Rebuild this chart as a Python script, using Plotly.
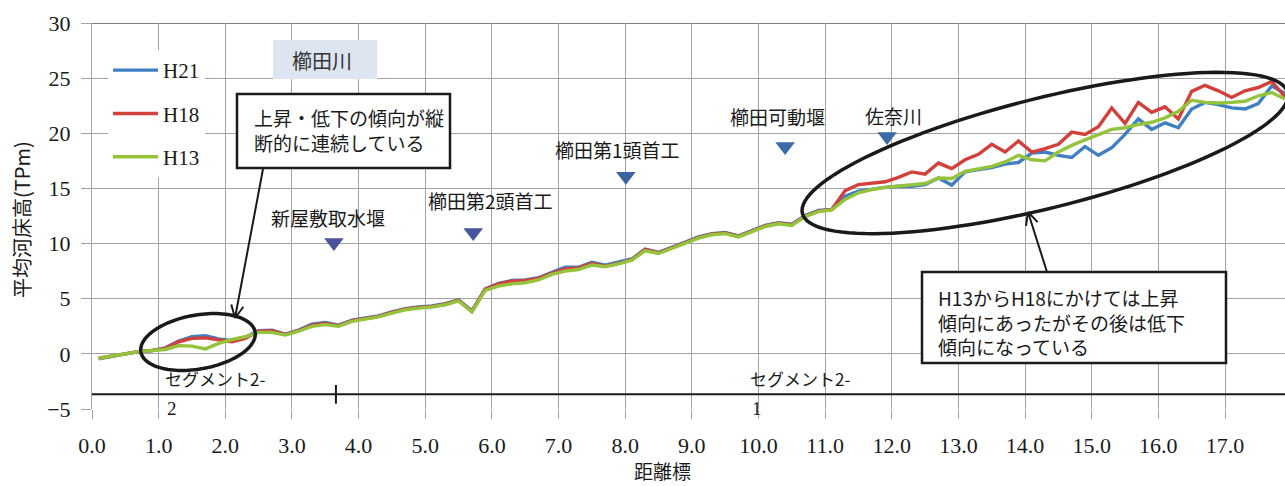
import math
import plotly.graph_objects as go

# ---- data -----------------------------------------------------------------
# distance marks (km) at which the mean riverbed level was surveyed
X_KM = [0.1, 0.3, 0.5, 0.7, 0.9, 1.1, 1.3, 1.5, 1.7, 1.9,
        2.1, 2.3, 2.5, 2.7, 2.9, 3.1, 3.3, 3.5, 3.7, 3.9,
        4.1, 4.3, 4.5, 4.7, 4.9, 5.1, 5.3, 5.5, 5.7, 5.9,
        6.1, 6.3, 6.5, 6.7, 6.9, 7.1, 7.3, 7.5, 7.7, 7.9,
        8.1, 8.3, 8.5, 8.7, 8.9, 9.1, 9.3, 9.5, 9.7, 9.9,
        10.1, 10.3, 10.5, 10.7, 10.9, 11.1, 11.3, 11.5, 11.7, 11.9,
        12.1, 12.3, 12.5, 12.7, 12.9, 13.1, 13.3, 13.5, 13.7, 13.9,
        14.1, 14.3, 14.5, 14.7, 14.9, 15.1, 15.3, 15.5, 15.7, 15.9,
        16.1, 16.3, 16.5, 16.7, 16.9, 17.1, 17.3, 17.5, 17.7, 17.9]

H21 = [-0.45, -0.2, 0.0, 0.2, 0.3, 0.55, 1.15, 1.55, 1.65, 1.35,
       1.2, 1.5, 2.1, 2.15, 1.8, 2.15, 2.7, 2.85, 2.6, 3.05,
       3.25, 3.45, 3.8, 4.1, 4.25, 4.35, 4.55, 4.9, 3.9, 5.9,
       6.4, 6.65, 6.7, 6.9, 7.4, 7.85, 7.85, 8.3, 8.05, 8.3,
       8.6, 9.5, 9.2, 9.65, 10.15, 10.6, 10.9, 11.0, 10.7, 11.15,
       11.65, 11.9, 11.75, 12.55, 13.0, 13.1, 14.3, 14.75, 14.95, 15.1,
       15.2, 15.2, 15.35, 15.95, 15.3, 16.5, 16.7, 16.9, 17.2, 17.35,
       18.2, 18.3, 18.0, 17.8, 18.8, 18.0, 18.7, 19.9, 21.3, 20.35,
       20.95, 20.5, 22.2, 22.8, 22.6, 22.3, 22.2, 22.7, 24.3, 23.6]

H18 = [-0.4, -0.2, 0.0, 0.2, 0.3, 0.5, 1.1, 1.4, 1.45, 1.25,
       1.1, 1.4, 2.05, 2.1, 1.75, 2.1, 2.6, 2.75, 2.55, 3.0,
       3.2, 3.4, 3.75, 4.05, 4.2, 4.3, 4.5, 4.85, 3.85, 5.85,
       6.35, 6.6, 6.65, 6.85, 7.3, 7.7, 7.8, 8.2, 7.95, 8.2,
       8.55, 9.45, 9.15, 9.6, 10.1, 10.55, 10.85, 10.95, 10.65, 11.1,
       11.6, 11.85, 11.7, 12.5, 12.95, 13.1, 14.8, 15.35, 15.45, 15.6,
       16.0, 16.5, 16.3, 17.3, 16.8, 17.6, 18.1, 19.0, 18.3, 19.3,
       18.3, 18.6, 19.0, 20.1, 19.9, 20.6, 22.3, 20.9, 22.8, 21.9,
       22.4, 21.3, 23.8, 24.35, 23.85, 23.25, 23.85, 24.15, 24.7, 23.3]

H13 = [-0.4, -0.2, 0.0, 0.2, 0.3, 0.4, 0.75, 0.7, 0.45, 0.95,
       1.3, 1.55, 1.95, 1.95, 1.7, 2.05, 2.5, 2.65, 2.5, 2.95,
       3.15, 3.35, 3.7, 4.0, 4.15, 4.25, 4.45, 4.8, 3.8, 5.75,
       6.15, 6.35, 6.45, 6.7, 7.2, 7.5, 7.65, 8.05, 7.9, 8.15,
       8.5, 9.35, 9.1, 9.55, 10.05, 10.5, 10.8, 10.9, 10.6, 11.05,
       11.55, 11.8, 11.65, 12.45, 12.9, 13.05, 14.0, 14.6, 14.9, 15.1,
       15.2, 15.3, 15.45, 15.95, 15.9, 16.55, 16.8, 17.0, 17.4, 18.0,
       17.6, 17.5, 18.3, 18.9, 19.4, 19.9, 20.35, 20.5, 20.8, 21.0,
       21.4, 22.0, 23.0, 22.8, 22.75, 22.8, 22.9, 23.4, 23.7, 23.1]

SERIES = [("H21", H21, "#3f7fc4"), ("H18", H18, "#d2403c"), ("H13", H13, "#94c43c")]

# weirs / confluence along the river
WEIR_NAMES = ["新屋敷取水堰", "櫛田第2頭首工", "櫛田第1頭首工", "櫛田可動堰", "佐奈川"]
WEIR_KM = [3.63, 5.72, 8.01, 10.40, 11.93]
WEIR_LEVEL = [10.1, 11.0, 16.1, 18.8, 19.7]
WEIR_COLORS = ["#4b539c", "#46559d", "#3b62a3", "#3b6aa6", "#3b6aa6"]
LABEL_SHIFT_X = [-6, 17, -8, -8, 6]
LABEL_SHIFT_Y = [25, 32, 27, 30, 21]

# segment classification (label is wrapped across the segment line)
SEGMENT_LEVEL = -3.67
SEGMENT_BOUNDARY_KM = 3.66
SEGMENT_LABEL_HEAD = ["セグメント2-", "セグメント2-"]
SEGMENT_LABEL_TAIL = ["2", "1"]
SEGMENT_LABEL_KM = [1.07, 9.84]

X_TICKS = list(range(0, 18))
Y_TICKS = [-5, 0, 5, 10, 15, 20, 25, 30]

# ---- geometry -------------------------------------------------------------
W, H = 1285, 486
ML, MR, MT, MB = 92, 0, 23, 77
X_RANGE = [0, 17.9]
Y_RANGE = [-5, 30]
PW, PH = W - ML - MR, H - MT - MB


def dx(px):
    return X_RANGE[0] + (px - ML) / PW * (X_RANGE[1] - X_RANGE[0])


def dy(py):
    return Y_RANGE[1] - (py - MT) / PH * (Y_RANGE[1] - Y_RANGE[0])


def pxp(px):
    return (px - ML) / PW


def pyp(py):
    return 1 - (py - MT) / PH


def ellipse_path(cx, cy, a, b, angle_deg, n=120):
    t = math.radians(angle_deg)
    pts = []
    for i in range(n):
        th = 2 * math.pi * i / n
        ux, uy = a * math.cos(th), b * math.sin(th)
        px = cx + ux * math.cos(t) + uy * math.sin(t)
        py = cy - ux * math.sin(t) + uy * math.cos(t)
        pts.append(f"{dx(px):.4f},{dy(py):.4f}")
    return "M " + " L ".join(pts) + " Z"


def arrow_path(tail, tip, head=14, spread=26):
    (x0, y0), (x1, y1) = tail, tip
    ang = math.atan2(y0 - y1, x0 - x1)
    parts = [f"M {dx(x0):.4f},{dy(y0):.4f} L {dx(x1):.4f},{dy(y1):.4f}"]
    for s in (-1, 1):
        a = ang + s * math.radians(spread)
        hx, hy = x1 + head * math.cos(a), y1 + head * math.sin(a)
        parts.append(f"M {dx(hx):.4f},{dy(hy):.4f} L {dx(x1):.4f},{dy(y1):.4f}")
    return " ".join(parts)


JP = "Noto Sans CJK JP"
NUM = "Liberation Serif, Times New Roman, serif"
INK = "#1a1a1a"

fig = go.Figure()

for name, vals, color in SERIES:
    fig.add_trace(go.Scatter(
        x=X_KM, y=vals, name=name, mode="lines", legendgroup=name,
        line=dict(color=color, width=3.4), hoverinfo="skip"))

fig.add_trace(go.Scatter(
    x=WEIR_KM, y=WEIR_LEVEL, mode="markers", showlegend=False, hoverinfo="skip",
    marker=dict(symbol="triangle-down", size=17, color=WEIR_COLORS,
                line=dict(width=0))))

shapes = []
# top frame line
shapes.append(dict(type="line", xref="paper", yref="y", x0=0, x1=1, y0=30, y1=30,
                   line=dict(color="#555555", width=1.5), layer="below"))
# segment line and boundary tick
shapes.append(dict(type="line", xref="paper", yref="y", x0=0, x1=1,
                   y0=SEGMENT_LEVEL, y1=SEGMENT_LEVEL, line=dict(color=INK, width=2)))
shapes.append(dict(type="line", x0=SEGMENT_BOUNDARY_KM, x1=SEGMENT_BOUNDARY_KM,
                   y0=SEGMENT_LEVEL + 0.85, y1=SEGMENT_LEVEL - 0.85,
                   line=dict(color=INK, width=2)))
# river name box
shapes.append(dict(type="rect", x0=dx(273), x1=dx(377), y0=dy(79), y1=dy(40),
                   fillcolor="#dde5f1", line=dict(width=0), layer="above"))
# callout boxes
shapes.append(dict(type="rect", x0=dx(237), x1=dx(450), y0=dy(168), y1=dy(94),
                   fillcolor="white", line=dict(color=INK, width=2.5), layer="above"))
shapes.append(dict(type="rect", x0=dx(922), x1=dx(1226), y0=dy(363), y1=dy(272),
                   fillcolor="white", line=dict(color=INK, width=2.5), layer="above"))
# highlight ellipses
shapes.append(dict(type="path", path=ellipse_path(198, 342, 58, 27, 10),
                   line=dict(color=INK, width=3.5), layer="above"))
shapes.append(dict(type="path", path=ellipse_path(1045, 153, 250, 55, 14),
                   line=dict(color=INK, width=3.5), layer="above"))
# callout arrows
shapes.append(dict(type="path", path=arrow_path((263, 169), (235, 318)),
                   line=dict(color=INK, width=2), layer="above"))
shapes.append(dict(type="path", path=arrow_path((1047, 272), (1028, 212)),
                   line=dict(color=INK, width=2), layer="above"))

ann = []
ann.append(dict(x=dx(322), y=dy(60), text="櫛田川", showarrow=False,
                font=dict(family=JP, size=20, color="#333333")))
ann.append(dict(x=dx(252), y=dy(130), text="上昇・低下の傾向が縦<br>断的に連続している",
                showarrow=False, xanchor="left", yanchor="middle", align="left",
                font=dict(family=JP, size=19, color=INK)))
ann.append(dict(x=dx(936), y=dy(322),
                text="H13からH18にかけては上昇<br>傾向にあったがその後は低下<br>傾向になっている",
                showarrow=False, xanchor="left", yanchor="middle", align="left",
                font=dict(family=JP, size=19, color=INK)))
for name, km, lvl, sx, sy in zip(WEIR_NAMES, WEIR_KM, WEIR_LEVEL, LABEL_SHIFT_X, LABEL_SHIFT_Y):
    ann.append(dict(x=km, y=lvl, text=name, showarrow=False, xshift=sx, yshift=sy,
                    yanchor="middle", font=dict(family=JP, size=19, color=INK)))
for head, tail, km in zip(SEGMENT_LABEL_HEAD, SEGMENT_LABEL_TAIL, SEGMENT_LABEL_KM):
    ann.append(dict(x=km, y=SEGMENT_LEVEL, text=head, showarrow=False,
                    xanchor="left", yanchor="bottom", yshift=1,
                    font=dict(family=JP, size=17, color=INK)))
    ann.append(dict(x=km, y=SEGMENT_LEVEL, text=tail, showarrow=False,
                    xanchor="left", yanchor="top", xshift=2, yshift=-2,
                    font=dict(family=NUM, size=19, color=INK)))
ann.append(dict(xref="paper", yref="paper", x=pxp(662), y=pyp(471), text="距離標",
                showarrow=False, xanchor="center", yanchor="middle",
                font=dict(family=JP, size=19, color=INK)))
ann.append(dict(xref="paper", yref="paper", x=pxp(21), y=pyp(220), text="平均河床高(TPm)",
                showarrow=False, textangle=-90, xanchor="center", yanchor="middle",
                font=dict(family=JP, size=20, color=INK)))

fig.update_layout(
    width=W, height=H,
    margin=dict(l=ML, r=MR, t=MT, b=MB, pad=0),
    paper_bgcolor="white", plot_bgcolor="white",
    shapes=shapes, annotations=ann,
    showlegend=True,
    legend=dict(x=pxp(108), y=pyp(50), xanchor="left", yanchor="top",
                bgcolor="white", borderwidth=0, traceorder="grouped",
                tracegroupgap=13, itemwidth=45,
                font=dict(family=NUM, size=21, color=INK)),
    xaxis=dict(range=X_RANGE, tickvals=X_TICKS, ticktext=[f"{v:.1f}" for v in X_TICKS],
               showgrid=True, gridcolor="#a3a3a3", gridwidth=1, zeroline=False,
               showline=False, ticks="outside", ticklen=9, tickcolor="#a3a3a3",
               ticklabelstandoff=8,
               tickfont=dict(family=NUM, size=22, color=INK)),
    yaxis=dict(range=Y_RANGE, tickvals=Y_TICKS, showgrid=True, gridcolor="#a3a3a3",
               gridwidth=1, zeroline=False, showline=True, linecolor="#a3a3a3",
               ticks="outside", ticklen=10, tickcolor="#a3a3a3", ticklabelstandoff=6,
               tickfont=dict(family=NUM, size=22, color=INK)),
)

fig.write_html("out.html")
